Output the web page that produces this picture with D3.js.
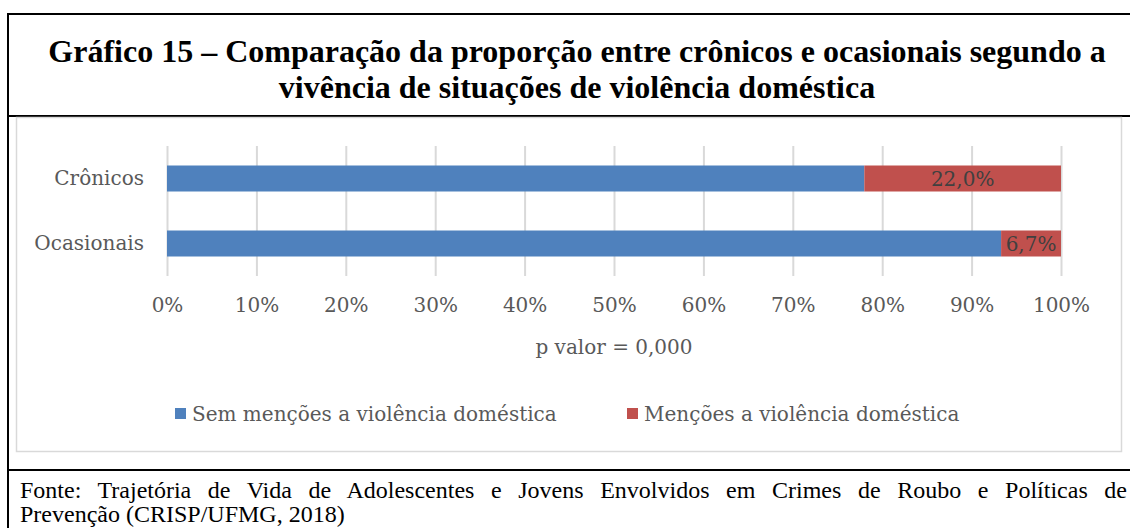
<!DOCTYPE html>
<html>
<head>
<meta charset="utf-8">
<script src="https://cdn.jsdelivr.net/npm/d3@7"></script>
<style>
  body { margin: 0; background: #fff; }
  svg { display: block; }
</style>
</head>
<body>
<svg id="chart" width="1130" height="528"></svg>
<script>
"use strict";

const categories = ["Crônicos", "Ocasionais"];
const semMencoes = [78.0, 93.3];
const mencoes = [22.0, 6.7];
const seriesNames = ["Sem menções a violência doméstica", "Menções a violência doméstica"];
const seriesColors = ["#4f81bd", "#c0504d"];
const xTicks = [0, 0.1, 0.2, 0.3, 0.4, 0.5, 0.6, 0.7, 0.8, 0.9, 1];
const titleLines = [
    "Gráfico 15 – Comparação da proporção entre crônicos e ocasionais segundo a",
    "vivência de situações de violência doméstica"
];
const axisTitle = "p valor = 0,000";
const sourceLines = [
    "Fonte: Trajetória de Vida de Adolescentes e Jovens Envolvidos em Crimes de Roubo e Políticas de",
    "Prevenção (CRISP/UFMG, 2018)"
];

const svg = d3.select("#chart");
const chartFont = "'DejaVu Serif', serif";
const docFont = "'Liberation Serif', 'Times New Roman', serif";

// frame lines
svg.append("line").attr("x1", 7).attr("x2", 1130).attr("y1", 14).attr("y2", 14)
    .attr("stroke", "#000").attr("stroke-width", 2);
svg.append("line").attr("x1", 8).attr("x2", 8).attr("y1", 13).attr("y2", 528)
    .attr("stroke", "#000").attr("stroke-width", 2);
svg.append("line").attr("x1", 7).attr("x2", 1130).attr("y1", 116).attr("y2", 116)
    .attr("stroke", "#000").attr("stroke-width", 2);
svg.append("line").attr("x1", 7).attr("x2", 1130).attr("y1", 470).attr("y2", 470)
    .attr("stroke", "#000").attr("stroke-width", 2);
svg.append("rect").attr("x", 16.5).attr("y", 117.5).attr("width", 1105).attr("height", 334)
    .attr("fill", "none").attr("stroke", "#d9d9d9").attr("stroke-width", 1.5);

// title
svg.append("g").selectAll("text").data(titleLines).join("text")
    .attr("x", 577).attr("y", (d, i) => 62 + i * 36)
    .attr("text-anchor", "middle")
    .style("font-family", docFont).style("font-weight", "bold").style("font-size", "32px")
    .attr("fill", "#000")
    .text(d => d);

// scales
const x = d3.scaleLinear().domain([0, 1]).range([167, 1061]);
const y = d3.scaleBand().domain(categories).range([146, 276]).paddingInner(0.6).paddingOuter(0.3);

// gridlines
svg.append("g")
    .attr("transform", "translate(0,276)")
    .call(d3.axisBottom(x).tickValues(xTicks).tickSize(-130).tickFormat(""))
    .call(g => g.select(".domain").remove())
    .call(g => g.selectAll("line").attr("stroke", "#d9d9d9").attr("stroke-width", 2));

// bars
const rows = categories.map((c, i) => ({cat: c, a: semMencoes[i] / 100, b: mencoes[i] / 100}));
const bars = svg.append("g");
bars.selectAll(".sem").data(rows).join("rect")
    .attr("x", x(0)).attr("y", d => y(d.cat))
    .attr("width", d => x(d.a) - x(0)).attr("height", y.bandwidth())
    .attr("fill", seriesColors[0]);
bars.selectAll(".men").data(rows).join("rect")
    .attr("x", d => x(d.a)).attr("y", d => y(d.cat))
    .attr("width", d => x(d.a + d.b) - x(d.a)).attr("height", y.bandwidth())
    .attr("fill", seriesColors[1]);
bars.selectAll("text").data(rows).join("text")
    .attr("x", d => (x(d.a) + x(d.a + d.b)) / 2)
    .attr("y", d => y(d.cat) + y.bandwidth() / 2 + 7)
    .attr("text-anchor", "middle")
    .style("font-family", chartFont).style("font-size", "20px")
    .attr("fill", "#404040")
    .text(d => (d.b * 100).toFixed(1).replace(".", ",") + "%");

// y axis
svg.append("g")
    .attr("transform", "translate(167,0)")
    .call(d3.axisLeft(y).tickSize(0).tickPadding(23))
    .call(g => g.select(".domain").remove())
    .call(g => g.selectAll("text")
        .style("font-family", chartFont).style("font-size", "20px").attr("fill", "#595959"));

// x axis
svg.append("g")
    .attr("transform", "translate(0,276)")
    .call(d3.axisBottom(x).tickValues(xTicks).tickSize(0).tickPadding(22).tickFormat(d3.format(".0%")))
    .call(g => g.select(".domain").remove())
    .call(g => g.selectAll("text")
        .style("font-family", chartFont).style("font-size", "20px").attr("fill", "#595959"));

svg.append("text")
    .attr("x", (x(0) + x(1)) / 2).attr("y", 354)
    .attr("text-anchor", "middle")
    .style("font-family", chartFont).style("font-size", "20px")
    .attr("fill", "#595959")
    .text(axisTitle);

// legend
const legendX = [175, 627];
const legend = svg.append("g").selectAll("g").data(seriesNames).join("g")
    .attr("transform", (d, i) => "translate(" + legendX[i] + ",408)");
legend.append("rect").attr("width", 11).attr("height", 11).attr("fill", (d, i) => seriesColors[i]);
legend.append("text").attr("x", 17).attr("y", 13)
    .style("font-family", chartFont).style("font-size", "20px").attr("fill", "#595959")
    .text(d => d);

// source note, first line justified
const src = svg.append("g").selectAll("text").data(sourceLines).join("text")
    .attr("x", 20).attr("y", (d, i) => 498 + i * 24)
    .style("font-family", docFont).style("font-size", "24px").attr("fill", "#000")
    .text(d => d);
src.filter((d, i) => i === 0).each(function(d) {
    const w = this.getComputedTextLength();
    const gaps = d.split(" ").length - 1;
    d3.select(this).style("word-spacing", ((1127 - 20 - w) / gaps) + "px");
});
</script>
</body>
</html>
